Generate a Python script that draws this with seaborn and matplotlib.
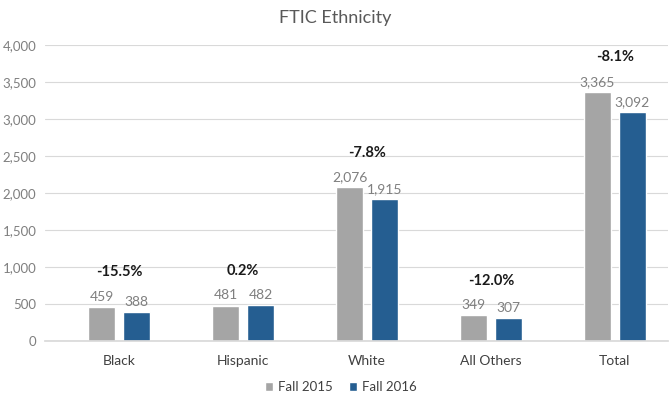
import matplotlib
matplotlib.use("Agg")
import matplotlib.pyplot as plt
import seaborn as sns
import pandas as pd
from matplotlib.ticker import FuncFormatter, MultipleLocator

categories = ["Black", "Hispanic", "White", "All Others", "Total"]
fall_2015 = [459, 481, 2076, 349, 3365]
fall_2016 = [388, 482, 1915, 307, 3092]
terms = ["Fall 2015", "Fall 2016"]
colors = ["#A5A5A5", "#255E91"]

df = pd.DataFrame({
    "Category": categories * 2,
    "Term": [terms[0]] * len(categories) + [terms[1]] * len(categories),
    "Count": fall_2015 + fall_2016,
})

sns.set_theme(style="white")
plt.rcParams["font.family"] = ["Lato", "DejaVu Sans"]

fig = plt.figure(figsize=(6.7, 3.99), dpi=100)
ax = fig.add_axes([0.067, 0.145, 0.93, 0.742])

sns.barplot(data=df, x="Category", y="Count", hue="Term", order=categories,
            hue_order=terms, palette=colors, width=0.56, gap=0.22,
            saturation=1, ax=ax, errorbar=None)

for cont in ax.containers:
    ax.bar_label(cont, labels=[f"{v:,.0f}" for v in cont.datavalues],
                 padding=3, fontsize=10, color="#7F7F7F")

# Year-over-year change above each group
for i, (a, b) in enumerate(zip(fall_2015, fall_2016)):
    pct = (b - a) / a * 100
    ax.annotate(f"{pct:.1f}%", xy=(i, max(a, b)), xytext=(0, 25),
                textcoords="offset points", ha="center", va="center",
                fontsize=10.5, fontweight="bold", color="#1a1a1a")

ax.set_ylim(0, 4000)
ax.set_xlim(-0.6, 4.43)
ax.yaxis.set_major_locator(MultipleLocator(500))
ax.yaxis.set_major_formatter(FuncFormatter(lambda v, p: f"{v:,.0f}"))
ax.grid(axis="y", color="#D9D9D9", linewidth=0.8)
ax.set_axisbelow(True)
for s in ["top", "right", "left"]:
    ax.spines[s].set_visible(False)
ax.spines["bottom"].set_color("#D9D9D9")
ax.tick_params(axis="y", labelsize=9.5, colors="#7F7F7F", length=0, pad=6)
ax.tick_params(axis="x", labelsize=10, colors="#404040", length=0, pad=10)
ax.set_xlabel("")
ax.set_ylabel("")

fig.suptitle("FTIC Ethnicity", y=0.975, fontsize=13, color="#595959")

ax.legend(loc="center", bbox_to_anchor=(0.475, -0.155), ncol=2,
          frameon=False, fontsize=9.5, handlelength=0.6, handleheight=0.6,
          handletextpad=0.4, columnspacing=1.2, labelcolor="#404040")

fig.savefig("out.png", dpi=100)
